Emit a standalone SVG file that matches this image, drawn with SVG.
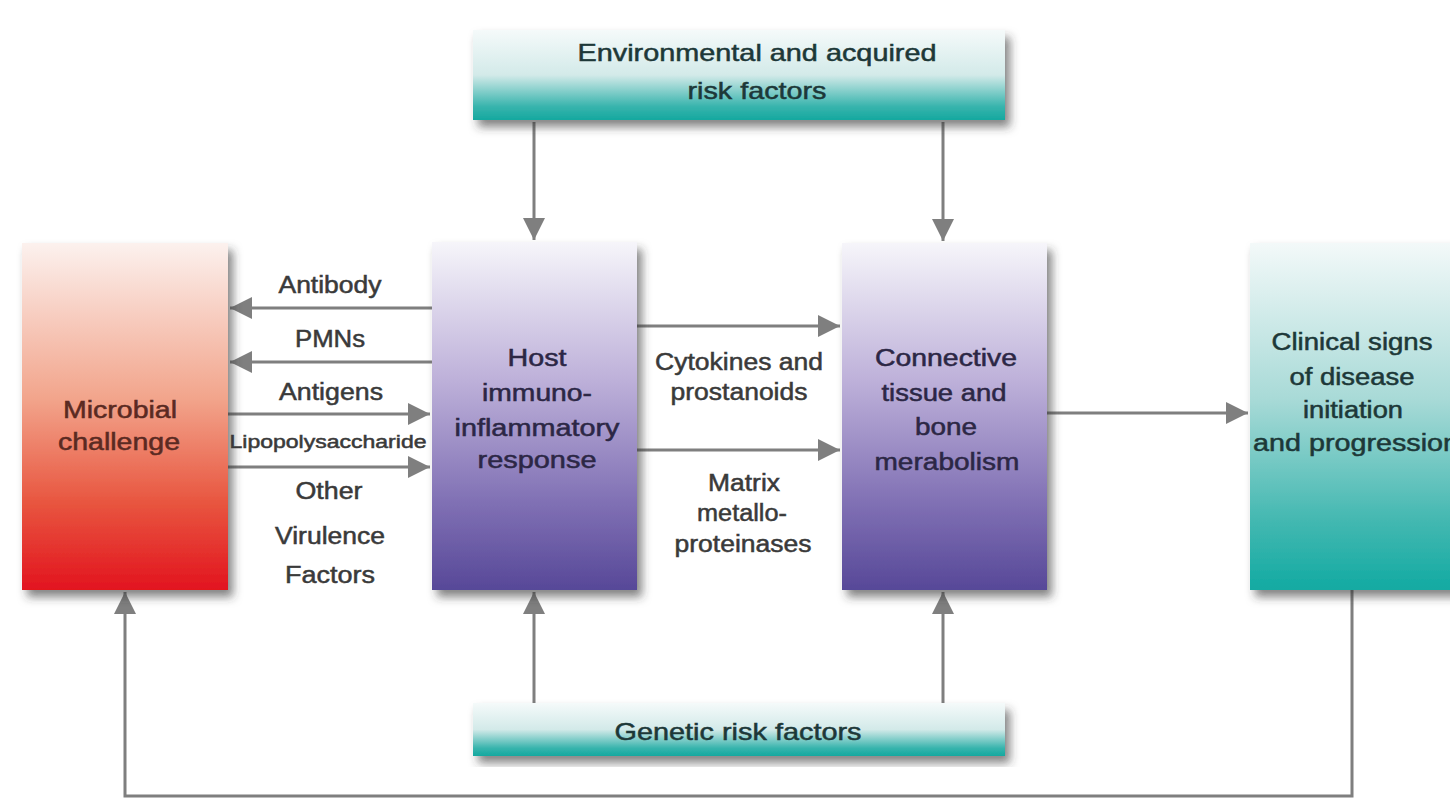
<svg xmlns="http://www.w3.org/2000/svg" width="1450" height="798" viewBox="0 0 1450 798">
<style>
text{font-family:"Liberation Sans",Arial,sans-serif;font-size:23px;text-anchor:middle;stroke-width:0.5px}
.lbl{fill:#3a3a3a;stroke:#3a3a3a}
.red{fill:#5a2a22;stroke:#5a2a22}
.pur{fill:#2c2745;stroke:#2c2745}
.teal{fill:#1d3838;stroke:#1d3838}
.con{fill:none;stroke:#7f7f7f;stroke-width:3}
</style>
<defs>
<linearGradient id="gRed" x1="0" y1="0" x2="0" y2="1">
<stop offset="0" stop-color="#fcf1ee"/>
<stop offset="0.45" stop-color="#f2a48b"/>
<stop offset="0.75" stop-color="#e8553f"/>
<stop offset="1" stop-color="#e2141f"/>
</linearGradient>
<linearGradient id="gPur" x1="0" y1="0" x2="0" y2="1">
<stop offset="0" stop-color="#f6f5fa"/>
<stop offset="0.4" stop-color="#bdb0d9"/>
<stop offset="0.75" stop-color="#8070b4"/>
<stop offset="1" stop-color="#574898"/>
</linearGradient>
<linearGradient id="gTealV" x1="0" y1="0" x2="0" y2="1">
<stop offset="0" stop-color="#f3f9f9"/>
<stop offset="0.45" stop-color="#a8dad7"/>
<stop offset="0.8" stop-color="#43b8b1"/>
<stop offset="1" stop-color="#12aaa2"/>
</linearGradient>
<linearGradient id="gBar" x1="0" y1="0" x2="0" y2="1">
<stop offset="0" stop-color="#f5fafa"/>
<stop offset="0.5" stop-color="#d3eae9"/>
<stop offset="0.85" stop-color="#38b4ad"/>
<stop offset="1" stop-color="#14a89f"/>
</linearGradient>
<filter id="sh" x="-10%" y="-10%" width="130%" height="130%">
<feDropShadow dx="5" dy="7" stdDeviation="5" flood-color="#333" flood-opacity="0.6"/>
</filter>
<marker id="ah" markerUnits="userSpaceOnUse" markerWidth="24" markerHeight="22" refX="22" refY="11" orient="auto">
<path d="M0,0 L22,11 L0,22 Z" fill="#7f7f7f"/>
</marker>
</defs>
<rect width="1450" height="798" fill="#ffffff"/>

<g id="connectors">
<path class="con" d="M534,122 V240" marker-end="url(#ah)"/>
<path class="con" d="M943,122 V241" marker-end="url(#ah)"/>
<path class="con" d="M432,308 H230" marker-end="url(#ah)"/>
<path class="con" d="M432,362 H230" marker-end="url(#ah)"/>
<path class="con" d="M228,414 H430" marker-end="url(#ah)"/>
<path class="con" d="M228,467 H430" marker-end="url(#ah)"/>
<path class="con" d="M637,326 H840" marker-end="url(#ah)"/>
<path class="con" d="M637,450 H840" marker-end="url(#ah)"/>
<path class="con" d="M1047,413 H1248" marker-end="url(#ah)"/>
<path class="con" d="M534,703 V592" marker-end="url(#ah)"/>
<path class="con" d="M943,703 V592" marker-end="url(#ah)"/>
<path class="con" d="M1352,590 V796 H125 V592" marker-end="url(#ah)"/>
<text class="lbl" x="330" y="293" textLength="103" lengthAdjust="spacingAndGlyphs">Antibody</text>
<text class="lbl" x="330" y="347" textLength="70" lengthAdjust="spacingAndGlyphs">PMNs</text>
<text class="lbl" x="331" y="400" textLength="104" lengthAdjust="spacingAndGlyphs">Antigens</text>
<text class="lbl" x="328" y="448" style="font-size:18px" textLength="197" lengthAdjust="spacingAndGlyphs">Lipopolysaccharide</text>
<text class="lbl" x="329" y="499" textLength="67" lengthAdjust="spacingAndGlyphs">Other</text>
<text class="lbl" x="330" y="544" textLength="110" lengthAdjust="spacingAndGlyphs">Virulence</text>
<text class="lbl" x="330" y="583" textLength="90" lengthAdjust="spacingAndGlyphs">Factors</text>
<text class="lbl" x="739" y="370" textLength="168" lengthAdjust="spacingAndGlyphs">Cytokines and</text>
<text class="lbl" x="739" y="400" textLength="137" lengthAdjust="spacingAndGlyphs">prostanoids</text>
<text class="lbl" x="744" y="491" textLength="72" lengthAdjust="spacingAndGlyphs">Matrix</text>
<text class="lbl" x="742" y="521" textLength="90" lengthAdjust="spacingAndGlyphs">metallo-</text>
<text class="lbl" x="743" y="552" textLength="137" lengthAdjust="spacingAndGlyphs">proteinases</text>
</g>

<g id="env">
<rect x="473" y="30" width="532" height="90" fill="url(#gBar)" filter="url(#sh)"/>
<text class="teal" x="757" y="61" style="font-size:24px" textLength="359" lengthAdjust="spacingAndGlyphs">Environmental and acquired</text>
<text class="teal" x="757" y="99" style="font-size:24px" textLength="139" lengthAdjust="spacingAndGlyphs">risk factors</text>
</g>

<g id="microbial">
<rect x="22" y="243" width="206" height="347" fill="url(#gRed)" filter="url(#sh)"/>
<text class="red" x="120" y="418" textLength="114" lengthAdjust="spacingAndGlyphs">Microbial</text>
<text class="red" x="119" y="450" textLength="122" lengthAdjust="spacingAndGlyphs">challenge</text>
</g>

<g id="host">
<rect x="432" y="242" width="205" height="348" fill="url(#gPur)" filter="url(#sh)"/>
<text class="pur" x="537" y="366" textLength="59" lengthAdjust="spacingAndGlyphs">Host</text>
<text class="pur" x="537" y="401" textLength="110" lengthAdjust="spacingAndGlyphs">immuno-</text>
<text class="pur" x="537" y="436" textLength="165" lengthAdjust="spacingAndGlyphs">inflammatory</text>
<text class="pur" x="537" y="468" textLength="119" lengthAdjust="spacingAndGlyphs">response</text>
</g>

<g id="connective">
<rect x="842" y="243" width="205" height="347" fill="url(#gPur)" filter="url(#sh)"/>
<text class="pur" x="946" y="366" textLength="142" lengthAdjust="spacingAndGlyphs">Connective</text>
<text class="pur" x="944" y="401" textLength="125" lengthAdjust="spacingAndGlyphs">tissue and</text>
<text class="pur" x="946" y="435" textLength="62" lengthAdjust="spacingAndGlyphs">bone</text>
<text class="pur" x="947" y="470" textLength="145" lengthAdjust="spacingAndGlyphs">merabolism</text>
</g>

<g id="clinical">
<rect x="1250" y="243" width="215" height="347" fill="url(#gTealV)" filter="url(#sh)"/>
<text class="teal" x="1352" y="350" textLength="161" lengthAdjust="spacingAndGlyphs">Clinical signs</text>
<text class="teal" x="1352" y="385" textLength="125" lengthAdjust="spacingAndGlyphs">of disease</text>
<text class="teal" x="1353" y="418" textLength="100" lengthAdjust="spacingAndGlyphs">initiation</text>
<text class="teal" x="1253" y="451" style="text-anchor:start" textLength="206" lengthAdjust="spacingAndGlyphs">and progression</text>
</g>

<g id="genetic">
<rect x="473" y="703" width="532" height="53" fill="url(#gBar)" filter="url(#sh)"/>
<text class="teal" x="738" y="740" style="font-size:24px" textLength="247" lengthAdjust="spacingAndGlyphs">Genetic risk factors</text>
</g>
</svg>
